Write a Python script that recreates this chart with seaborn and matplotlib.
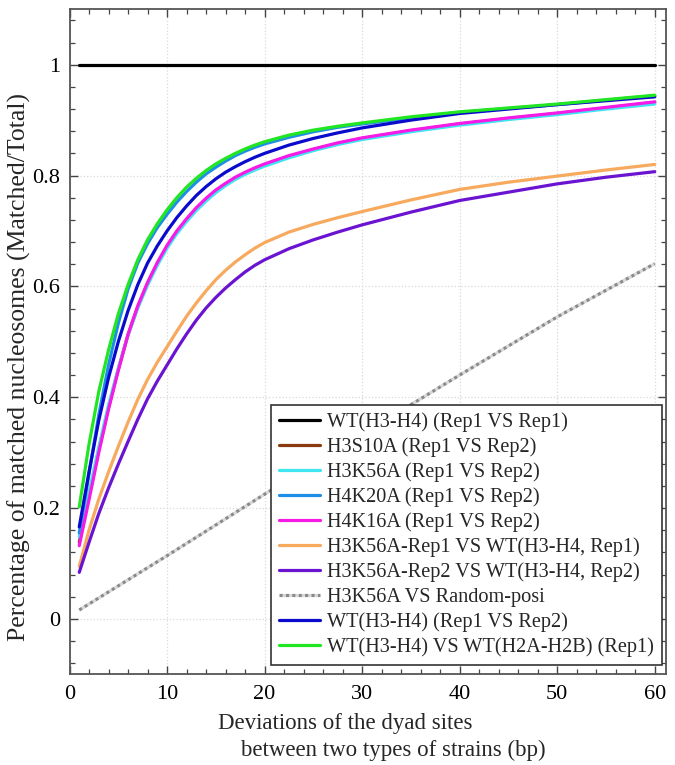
import matplotlib
matplotlib.use("Agg")
import matplotlib.pyplot as plt
from matplotlib.ticker import MultipleLocator, FuncFormatter
import seaborn as sns
import pandas as pd

# ---------------- data ----------------
x_dev = [1, 2, 3, 4, 5, 6, 7, 8, 9, 10, 11, 12, 13, 14, 15, 16, 17, 18, 19, 20,
         22.5, 25, 27.5, 30, 35, 40, 45, 50, 55, 60]

wt_rep1_rep1_x = [1, 60]
wt_rep1_rep1 = [1.0, 1.0]

h3s10a = [0.138, 0.221, 0.305, 0.382, 0.450, 0.513, 0.563, 0.605, 0.641, 0.672,
          0.698, 0.720, 0.740, 0.757, 0.772, 0.784, 0.795, 0.804, 0.812, 0.819,
          0.834, 0.847, 0.858, 0.867, 0.881, 0.893, 0.903, 0.912, 0.922, 0.932]
h3k56a = [0.148, 0.228, 0.310, 0.386, 0.452, 0.512, 0.561, 0.602, 0.638, 0.669,
          0.695, 0.717, 0.737, 0.754, 0.769, 0.782, 0.793, 0.802, 0.810, 0.817,
          0.832, 0.845, 0.856, 0.865, 0.879, 0.891, 0.901, 0.910, 0.920, 0.929]
h4k20a = [0.155, 0.262, 0.368, 0.458, 0.533, 0.595, 0.642, 0.677, 0.706, 0.730,
          0.752, 0.771, 0.788, 0.803, 0.815, 0.826, 0.836, 0.844, 0.851, 0.857,
          0.869, 0.879, 0.887, 0.893, 0.904, 0.914, 0.921, 0.928, 0.936, 0.944]
h4k16a = [0.132, 0.215, 0.300, 0.378, 0.448, 0.513, 0.565, 0.607, 0.643, 0.674,
          0.700, 0.722, 0.742, 0.759, 0.774, 0.786, 0.797, 0.806, 0.814, 0.821,
          0.836, 0.848, 0.859, 0.868, 0.882, 0.894, 0.904, 0.913, 0.923, 0.933]
h3k56a_rep1_wt = [0.095, 0.160, 0.216, 0.265, 0.311, 0.355, 0.396, 0.432, 0.463, 0.491,
                  0.519, 0.546, 0.570, 0.592, 0.612, 0.629, 0.644, 0.657, 0.669, 0.679,
                  0.698, 0.712, 0.724, 0.735, 0.756, 0.775, 0.788, 0.799, 0.810, 0.820]
h3k56a_rep2_wt = [0.084, 0.138, 0.190, 0.236, 0.279, 0.320, 0.360, 0.397, 0.429, 0.458,
                  0.487, 0.514, 0.539, 0.561, 0.580, 0.597, 0.612, 0.626, 0.638, 0.648,
                  0.668, 0.684, 0.698, 0.711, 0.734, 0.755, 0.770, 0.785, 0.797, 0.807]
random_x = [1, 10, 20, 30, 40, 50, 60]
random_posi = [0.016, 0.114, 0.225, 0.333, 0.440, 0.545, 0.641]
wt_rep1_rep2 = [0.166, 0.265, 0.358, 0.435, 0.500, 0.556, 0.603, 0.642, 0.673, 0.700,
                0.724, 0.745, 0.764, 0.780, 0.794, 0.806, 0.816, 0.825, 0.833, 0.840,
                0.855, 0.867, 0.877, 0.886, 0.900, 0.912, 0.920, 0.928, 0.935, 0.942]
wt_h3h4_h2ah2b = [0.202, 0.315, 0.410, 0.485, 0.550, 0.603, 0.648, 0.684, 0.713, 0.738,
                  0.760, 0.779, 0.795, 0.809, 0.821, 0.831, 0.840, 0.848, 0.855, 0.861,
                  0.873, 0.882, 0.889, 0.895, 0.906, 0.915, 0.922, 0.929, 0.937, 0.945]

labels = ["WT(H3-H4) (Rep1 VS Rep1)", "H3S10A (Rep1 VS Rep2)", "H3K56A (Rep1 VS Rep2)",
          "H4K20A (Rep1 VS Rep2)", "H4K16A (Rep1 VS Rep2)", "H3K56A-Rep1 VS WT(H3-H4, Rep1)",
          "H3K56A-Rep2 VS WT(H3-H4, Rep2)", "H3K56A VS Random-posi", "WT(H3-H4) (Rep1 VS Rep2)",
          "WT(H3-H4) VS WT(H2A-H2B) (Rep1)"]
xticks = [0, 10, 20, 30, 40, 50, 60]
yticks = [0, 0.2, 0.4, 0.6, 0.8, 1.0]

# ---------------- styling ----------------
sns.set_theme(style="ticks")
plt.rcParams["font.family"] = ["Liberation Serif", "DejaVu Serif"]

colors = ["#000000", "#8B3A10", "#3FE6F2", "#1E8FE6", "#F51AE6", "#F7A95E",
          "#6A14D2", "#8a8a8a", "#0A0ACD", "#22E622"]

series = [
    (wt_rep1_rep1_x, wt_rep1_rep1),
    (x_dev, h3s10a),
    (x_dev, h3k56a),
    (x_dev, h4k20a),
    (x_dev, h4k16a),
    (x_dev, h3k56a_rep1_wt),
    (x_dev, h3k56a_rep2_wt),
    (random_x, random_posi),
    (x_dev, wt_rep1_rep2),
    (x_dev, wt_h3h4_h2ah2b),
]

W, H = 675, 765
L, R, T, B = 69.5, 665.5, 9.3, 674.3
fig = plt.figure(figsize=(W / 100, H / 100), dpi=100)
ax = fig.add_axes([L / W, (H - B) / H, (R - L) / W, (B - T) / H])

for (xs, ys), lab, col in zip(series, labels, colors):
    df = pd.DataFrame({"x": xs, "y": ys})
    kw = {}
    if "Random" in lab:
        kw = dict(linestyle=(0, (1, 1)), gapcolor="#d8d8d8")
    sns.lineplot(data=df, x="x", y="y", ax=ax, color=col, linewidth=2.3,
                 errorbar=None, label=lab, **kw)

ax.set_xlim(0, 61.1)
ax.set_ylim(-0.1, 1.1)
ax.set_xticks(xticks)
ax.set_yticks(yticks)
ax.xaxis.set_minor_locator(MultipleLocator(2))
ax.yaxis.set_minor_locator(MultipleLocator(0.04))
ax.yaxis.set_major_formatter(FuncFormatter(lambda v, _: f"{round(v, 2) + 0:g}"))
ax.tick_params(which="both", direction="in", top=True, right=True, colors="#444444",
               labelcolor="black", labelsize=16)
ax.tick_params(which="major", length=6, width=1.0)
ax.tick_params(which="minor", length=3.5, width=0.9)
ax.tick_params(axis="x", which="major", pad=7.5)
ax.tick_params(axis="y", which="major", pad=6.5)
ax.grid(True, which="major", color="#d9d9d9", linestyle=":", linewidth=0.9)
for s in ax.spines.values():
    s.set_visible(True)
    s.set_color("#555555")
    s.set_linewidth(1.3)

ax.set_ylabel("Percentage of matched nucleosomes (Matched/Total)", fontsize=18.5)
ax.yaxis.set_label_coords(-0.064, (B - 367) / (B - T))
ax.set_xlabel("Deviations of the dyad sites\n    between two types of strains (bp)",
              fontsize=16.5, multialignment="left", linespacing=1.32)
ax.xaxis.set_label_coords((382 - L) / (R - L), -0.0585)

handles, labs = ax.get_legend_handles_labels()
leg = ax.legend(handles, labs, loc="lower right", bbox_to_anchor=(0.9936, 0.014),
                borderaxespad=0, fontsize=14.6, frameon=True, fancybox=False,
                edgecolor="#333333", framealpha=1, handlelength=2.05, handletextpad=0.32,
                labelspacing=0.26, borderpad=0.4)
leg.get_frame().set_linewidth(1.2)

fig.savefig("out.png", dpi=100)
